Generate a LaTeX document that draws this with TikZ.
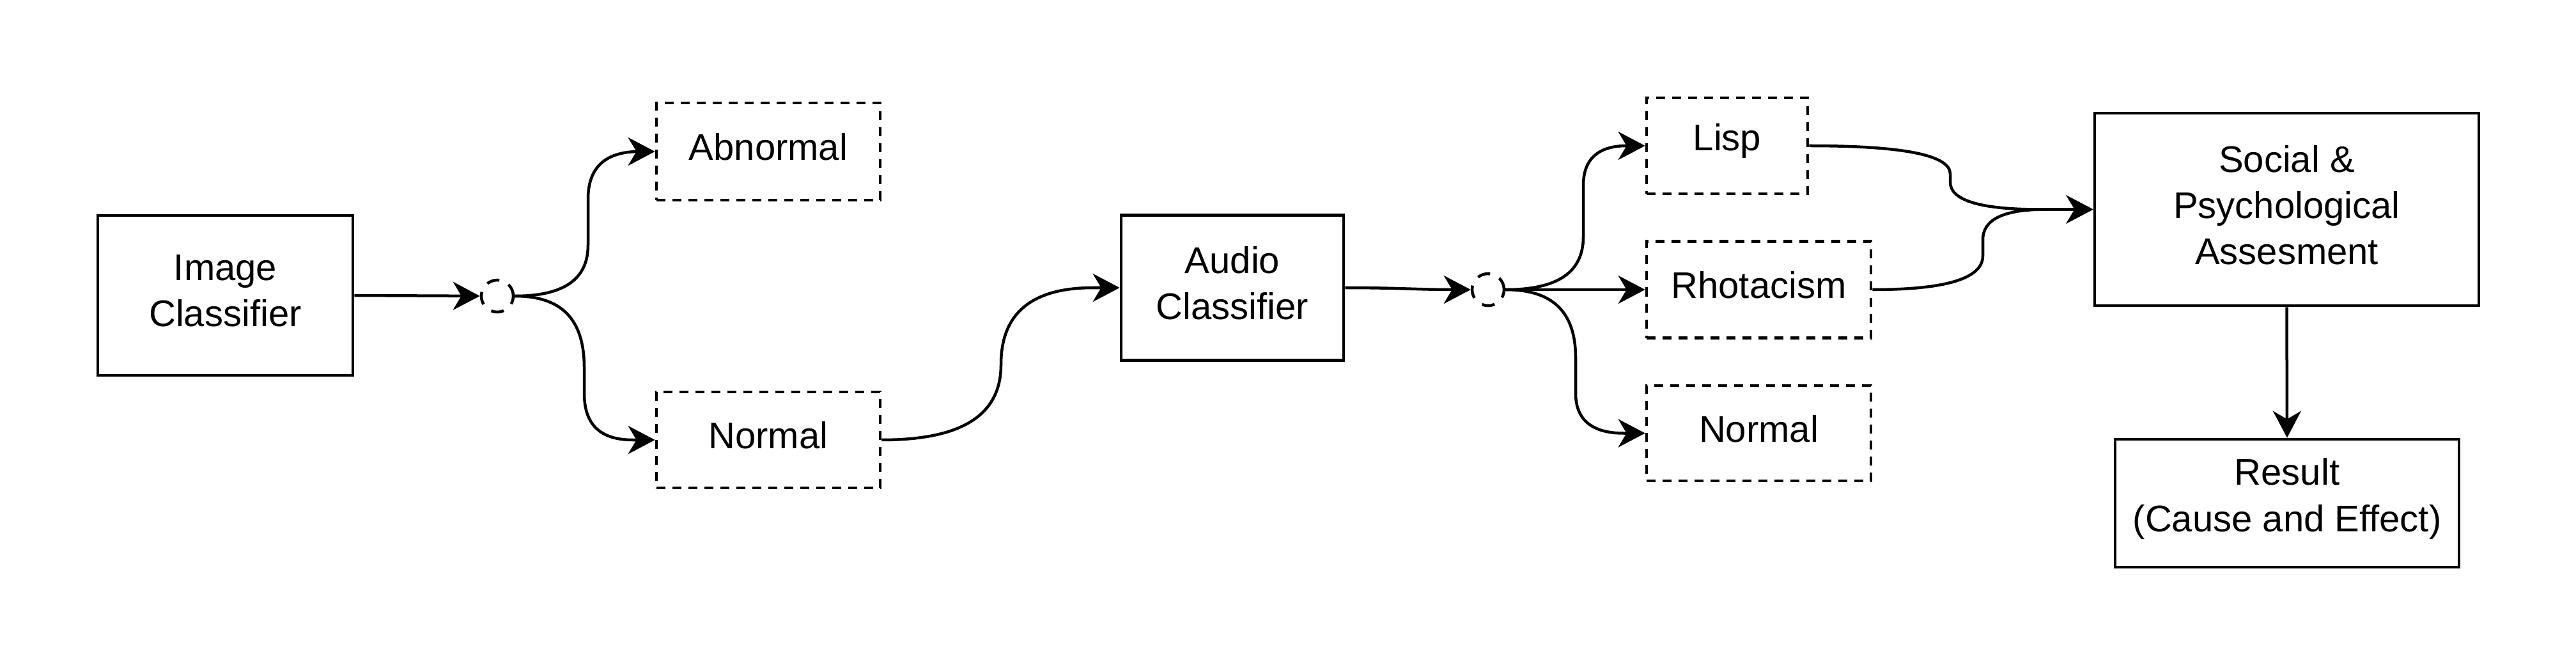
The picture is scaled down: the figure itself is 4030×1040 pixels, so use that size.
\documentclass[tikz,border=0pt]{standalone}
\usepackage{fontspec}
\setmainfont{Liberation Sans}
\usetikzlibrary{arrows.meta}
\begin{document}
\begin{tikzpicture}[x=0.01cm,y=-0.01cm,
  lw/.style={line width=0.045cm},
  lbl/.style={align=center, inner sep=0pt, yshift=0.07cm,
    font=\fontsize{16.5pt}{20.5pt}\selectfont},
  box/.style={draw, lw, rectangle, inner sep=0pt},
  dbox/.style={box, dash pattern=on 0.14cm off 0.11cm},
  junc/.style={draw, lw, circle, minimum size=0.5cm, inner sep=0pt,
    dash pattern=on 0.2cm off 0.16cm},
  arr/.style={lw, -{Stealth[length=0.42cm, width=0.44cm, inset=0.13cm]}}]
\useasboundingbox (0,0) rectangle (4030,1040);

\node[box, minimum width=3.99cm, minimum height=2.50cm, label={[lbl]center:{Image\\Classifier}}] (img) at (352.5,462) {};
\node[junc] (j1) at (778,463) {};
\node[dbox, minimum width=3.50cm, minimum height=1.52cm, label={[lbl]center:Abnormal}] (ab) at (1202,237) {};
\node[dbox, minimum width=3.50cm, minimum height=1.50cm, label={[lbl]center:Normal}] (n1) at (1202,688) {};
\node[box, minimum width=3.48cm, minimum height=2.27cm, label={[lbl]center:{Audio\\Classifier}}] (aud) at (1928,450) {};
\node[junc] (j2) at (2328,453) {};
\node[dbox, minimum width=2.52cm, minimum height=1.50cm, label={[lbl]center:Lisp}] (lisp) at (2702,228) {};
\node[dbox, minimum width=3.51cm, minimum height=1.51cm, label={[lbl]center:Rhotacism}] (rho) at (2751.5,453) {};
\node[dbox, minimum width=3.51cm, minimum height=1.49cm, label={[lbl]center:Normal}] (n2) at (2751.5,677.5) {};
\node[box, minimum width=6.01cm, minimum height=3.01cm, label={[lbl]center:{Social \&\\Psychological\\Assesment}}] (soc) at (3577.5,327.5) {};
\node[box, minimum width=5.38cm, minimum height=2.00cm, label={[lbl]center:{Result\\(Cause and Effect)}}] (res) at (3578,787) {};

\draw[arr] (img.east) -- (j1.west);
\draw[arr] (j1.east) .. controls +(78,0) and +(0,53) .. (920,383) -- (920,311)
  .. controls +(0,-49) and +(-53,0) .. (1000,237) -- (ab.west);
\draw[arr] (j1.east) .. controls +(74,0) and +(0,-75) .. (914,575) -- (914,615)
  .. controls +(0,49) and +(-51,0) .. (990,688) -- (n1.west);
\draw[arr] (n1.east) .. controls +(126,0) and +(0,79) .. (1566,570)
  .. controls +(0,-80) and +(-96,0) .. (1710,450) -- (aud.west);
\draw[arr] (aud.east) .. controls +(80,0) and +(-80,0) .. (j2.west);
\draw[arr] (j2.east) .. controls +(83,0) and +(0,55) .. (2477,370) -- (2477,290)
  .. controls +(0,-41) and +(-45,0) .. (2545,228) -- (lisp.west);
\draw[arr] (j2.east) -- (rho.west);
\draw[arr] (j2.east) .. controls +(75,0) and +(0,-71) .. (2465,560) -- (2465,615)
  .. controls +(0,41) and +(-50,0) .. (2540,677.5) -- (n2.west);
\draw[arr] (lisp.east) .. controls +(149,0) and +(0,-29) .. (3051,272) -- (3051,285)
  .. controls +(0,28) and +(-93,0) .. (3190,327.5) -- (soc.west);
\draw[arr] (rho.east) .. controls +(117,0) and +(0,35) .. (3102,400) -- (3102,375)
  .. controls +(0,-32) and +(-65,0) .. (3200,327.5) -- (soc.west);
\draw[arr] (soc.south) -- (res.north);
\end{tikzpicture}
\end{document}
